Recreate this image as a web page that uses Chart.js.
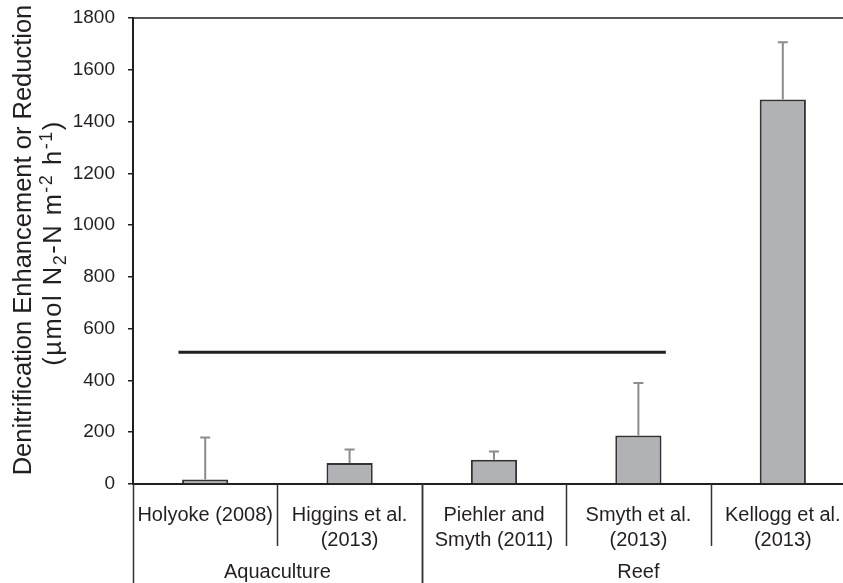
<!DOCTYPE html>
<html>
<head>
<meta charset="utf-8">
<script src="https://cdn.jsdelivr.net/npm/chart.js@4/dist/chart.umd.min.js"></script>
<style>
  html, body { margin: 0; padding: 0; background: #fff; overflow: hidden; }
  #wrap { width: 855px; height: 583px; }
</style>
</head>
<body>
<div id="wrap"><canvas id="chart" width="855" height="583"></canvas></div>
<script>
// studies (x categories) and their treatment group
const studies = [
    'Holyoke (2008)',
    ['Higgins et al.', '(2013)'],
    ['Piehler and', 'Smyth (2011)'],
    ['Smyth et al.', '(2013)'],
    ['Kellogg et al.', '(2013)']
];
const rates = [17, 81, 94, 187, 1485];       // mean enhancement
const rateErrors = [163, 52, 32, 203, 221];  // upper error (+)

const groups = ['Aquaculture', 'Reef'];
const groupFirst = [0, 2];
const groupLast = [1, 4];

const yTicks = [0, 200, 400, 600, 800, 1000, 1200, 1400, 1600, 1800];

// horizontal reference line (value and category span)
const refValue = 509;
const refFrom = -0.185;
const refTo = 3.19;

const ink = '#231f20';
const fontFamily = '"Liberation Sans", Arial, Helvetica, sans-serif';

function drawRich(ctx, parts, size, x, y, spacing) {
    // draws mixed normal / sub / superscript text centred on x
    const small = Math.round(size * 0.72);
    ctx.letterSpacing = (spacing || 0) + 'px';
    let total = 0;
    parts.forEach(p => {
        ctx.font = `${p.s ? small : size}px ${fontFamily}`;
        p.w = ctx.measureText(p.t).width;
        total += p.w;
    });
    let cx = x - total / 2;
    parts.forEach(p => {
        ctx.font = `${p.s ? small : size}px ${fontFamily}`;
        const dy = p.s === -1 ? 5 : (p.s === 1 ? -9 : 0);
        ctx.fillText(p.t, cx, y + dy);
        cx += p.w;
    });
    ctx.letterSpacing = '0px';
}

const extrasPlugin = {
    id: 'extras',
    afterDatasetsDraw(chart) {
        const ctx = chart.ctx;
        const x = chart.scales.x;
        const y = chart.scales.y;
        const area = chart.chartArea;

        ctx.save();
        // error bars
        ctx.strokeStyle = '#8c8c8c';
        ctx.lineWidth = 2;
        rates.forEach((v, i) => {
            const px = x.getPixelForValue(i);
            const y0 = y.getPixelForValue(v);
            const y1 = y.getPixelForValue(v + rateErrors[i]);
            ctx.beginPath();
            ctx.moveTo(px, y0);
            ctx.lineTo(px, y1);
            ctx.moveTo(px - 5, y1);
            ctx.lineTo(px + 5, y1);
            ctx.stroke();
        });

        // reference line
        ctx.strokeStyle = ink;
        ctx.lineWidth = 3;
        const ry = y.getPixelForValue(refValue);
        ctx.beginPath();
        ctx.moveTo(x.getPixelForValue(refFrom), ry);
        ctx.lineTo(x.getPixelForValue(refTo), ry);
        ctx.stroke();

        // top frame line
        ctx.lineWidth = 1.5;
        ctx.beginPath();
        ctx.moveTo(area.left, area.top);
        ctx.lineTo(area.right, area.top);
        ctx.stroke();
        ctx.restore();
    },
    afterDraw(chart) {
        const ctx = chart.ctx;
        const x = chart.scales.x;
        const area = chart.chartArea;
        const bottom = chart.height;

        ctx.save();
        ctx.strokeStyle = '#333';
        ctx.lineWidth = 1.5;
        // dividers between studies inside a group
        for (let i = 1; i < studies.length; i++) {
            if (groupFirst.includes(i)) continue;
            const px = Math.round(x.getPixelForValue(i - 0.5)) + 0.5;
            ctx.beginPath();
            ctx.moveTo(px, area.bottom);
            ctx.lineTo(px, area.bottom + 62);
            ctx.stroke();
        }
        // group dividers and labels
        ctx.fillStyle = ink;
        ctx.font = `20px ${fontFamily}`;
        ctx.textAlign = 'center';
        ctx.textBaseline = 'middle';
        groups.forEach((g, k) => {
            const left = x.getPixelForValue(groupFirst[k] - 0.5);
            const right = x.getPixelForValue(groupLast[k] + 0.5);
            [left, right].forEach(p => {
                const px = Math.round(p) + 0.5;
                ctx.beginPath();
                ctx.moveTo(px, area.bottom);
                ctx.lineTo(px, bottom);
                ctx.stroke();
            });
            ctx.fillText(g, (left + right) / 2, 572);
        });

        // y axis title, two lines rotated
        const cy = 240;
        ctx.translate(0, cy);
        ctx.rotate(-Math.PI / 2);
        ctx.textAlign = 'left';
        ctx.textBaseline = 'alphabetic';
        drawRich(ctx, [{ t: 'Denitrification Enhancement or Reduction', s: 0 }], 25.5, 0, 31);
        drawRich(ctx, [
            { t: '(\u00b5mol N', s: 0 },
            { t: '2', s: -1 },
            { t: '-N m', s: 0 },
            { t: '-2', s: 1 },
            { t: ' h', s: 0 },
            { t: '-1', s: 1 },
            { t: ')', s: 0 }
        ], 25.5, -3, 61, 1.5);
        ctx.restore();
    }
};

new Chart(document.getElementById('chart'), {
    type: 'bar',
    data: {
        labels: studies,
        datasets: [{
            data: rates,
            backgroundColor: '#b1b2b5',
            borderColor: '#333333',
            borderWidth: 2,
            borderSkipped: 'bottom',
            categoryPercentage: 1,
            barPercentage: 0.32
        }]
    },
    options: {
        responsive: false,
        animation: false,
        events: [],
        layout: { padding: { top: 18, right: 0, left: 0, bottom: 0 } },
        plugins: {
            legend: { display: false },
            tooltip: { enabled: false },
            title: { display: false }
        },
        scales: {
            x: {
                grid: { display: false },
                border: { color: ink, width: 2 },
                ticks: {
                    color: ink,
                    font: { family: fontFamily, size: 20, lineHeight: 1.25 },
                    padding: 11,
                    maxRotation: 0,
                    autoSkip: false
                },
                afterFit(scale) { scale.height = 99; }
            },
            y: {
                min: 0,
                max: 1800,
                afterBuildTicks(scale) {
                    scale.ticks = yTicks.map(v => ({ value: v }));
                },
                grid: {
                    drawOnChartArea: false,
                    drawTicks: true,
                    tickLength: 5,
                    color: ink,
                    lineWidth: 1.5
                },
                border: { color: ink, width: 2 },
                ticks: {
                    color: ink,
                    font: { family: fontFamily, size: 19 },
                    padding: 13,
                    callback: v => String(v)
                },
                afterFit(scale) {
                    scale.width = 133;
                    scale.paddingTop = 0;
                    scale.paddingBottom = 0;
                }
            }
        }
    },
    plugins: [extrasPlugin]
});
</script>
</body>
</html>
